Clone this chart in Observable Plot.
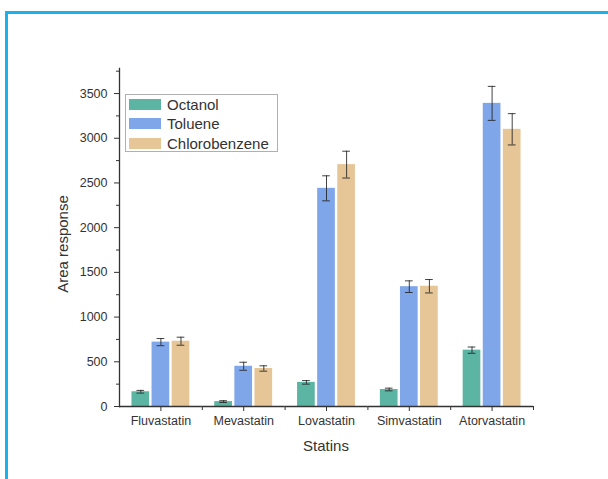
<!DOCTYPE html>
<html><head><meta charset="utf-8">
<script src="https://cdn.jsdelivr.net/npm/d3@7"></script>
<script src="https://cdn.jsdelivr.net/npm/@observablehq/plot@0.6"></script>
<style>
body{margin:0;background:#fff;font-family:"Liberation Sans",Arial,sans-serif;}
#wrap{position:relative;width:608px;height:479px;overflow:hidden;background:#fff;}
#border{position:absolute;left:5px;top:11px;right:-10px;bottom:-10px;border-left:3px solid #1ab1ec;border-top:3px solid #1ab1ec;}
#chart{position:absolute;left:0;top:0;}
#legend{position:absolute;left:125px;top:94px;width:153px;height:58px;border:1px solid #b0b0b0;background:#fff;box-sizing:border-box;}
.item{position:absolute;left:3px;height:19px;display:flex;align-items:center;font-size:15px;color:#333;white-space:nowrap;}
.sw{width:32px;height:11px;margin-right:6px;}
.title{position:absolute;font-size:15px;color:#333;white-space:nowrap;}
</style></head>
<body>
<div id="wrap">
  <div id="chart"></div>
  <div id="border"></div>
  <div id="legend"></div>
  <div class="title" id="xt"></div>
  <div class="title" id="yt"></div>
</div>
<script>
const statins = ["Fluvastatin", "Mevastatin", "Lovastatin", "Simvastatin", "Atorvastatin"];
const solvents = ["Octanol", "Toluene", "Chlorobenzene"];
const octanol = [165, 55, 270, 190, 630];
const octanolErr = [15, 10, 20, 15, 35];
const toluene = [720, 450, 2440, 1340, 3390];
const tolueneErr = [40, 45, 140, 65, 190];
const chlorobenzene = [730, 425, 2705, 1345, 3100];
const chlorobenzeneErr = [45, 30, 150, 75, 175];
const colors = ["#5cb5a2", "#7fa6e8", "#e6c597"];
const yTicks = [0, 500, 1000, 1500, 2000, 2500, 3000, 3500];
const yMinor = [250, 750, 1250, 1750, 2250, 2750, 3250, 3750];
const xTitle = "Statins";
const yTitle = "Area response";

const series = [octanol, toluene, chlorobenzene];
const errs = [octanolErr, tolueneErr, chlorobenzeneErr];
const rows = [];
statins.forEach((s, i) => solvents.forEach((v, j) => rows.push({statin: s, solvent: v, value: series[j][i], err: errs[j][i]})));

const W = 608, H = 479, mL = 119, mR = 75, mT = 68, mB = 73;
const plotH = H - mT - mB;
const ink = "#333";

const chart = Plot.plot({
  width: W, height: H, marginLeft: mL, marginRight: mR, marginTop: mT, marginBottom: mB,
  style: {fontFamily: "'Liberation Sans', Arial, sans-serif", fontSize: "12.5px", color: ink, background: "transparent", overflow: "visible"},
  fx: {domain: statins, paddingInner: 0, paddingOuter: 0, round: false, label: null, axis: null},
  x: {domain: solvents, paddingInner: 0.12, paddingOuter: 0.62, round: false, axis: null},
  y: {domain: [0, 3780], axis: null},
  color: {domain: solvents, range: colors},
  marks: [
    Plot.barY(rows, {fx: "statin", x: "solvent", y: "value", fill: "solvent"}),
    Plot.ruleX(rows, {fx: "statin", x: "solvent", y1: d => d.value - d.err, y2: d => d.value + d.err, stroke: "#222", strokeOpacity: 0.85}),
    Plot.tickY(rows, {fx: "statin", x: "solvent", y: d => d.value - d.err, insetLeft: 5, insetRight: 5, stroke: "#222", strokeOpacity: 0.85}),
    Plot.tickY(rows, {fx: "statin", x: "solvent", y: d => d.value + d.err, insetLeft: 5, insetRight: 5, stroke: "#222", strokeOpacity: 0.85}),
    Plot.ruleY([0], {stroke: ink, strokeWidth: 1.3}),
    Plot.frame({anchor: "left", facetAnchor: "left", stroke: ink, strokeWidth: 1.3}),
    Plot.frame({anchor: "right", insetTop: plotH, insetBottom: -3, stroke: ink}),
    Plot.axisY({ticks: yTicks, tickSize: 5, tickPadding: 7, tickFormat: "d", label: null, stroke: ink}),
    Plot.axisY({ticks: yMinor, tickSize: 3, tickFormat: () => "", label: null, stroke: ink}),
    Plot.axisFx({anchor: "bottom", tickSize: 5, tickPadding: 5, label: null, stroke: ink})
  ]
});
document.getElementById("chart").appendChild(chart);

const legend = document.getElementById("legend");
solvents.forEach((s, j) => {
  const it = document.createElement("div");
  it.className = "item";
  it.style.top = (0 + j * 19.3) + "px";
  const sw = document.createElement("div");
  sw.className = "sw";
  sw.style.background = colors[j];
  it.appendChild(sw);
  it.appendChild(document.createTextNode(s));
  legend.appendChild(it);
});

const xt = document.getElementById("xt");
xt.textContent = xTitle;
xt.style.left = (326) + "px";
xt.style.top = "437px";
xt.style.transform = "translateX(-50%)";
const yt = document.getElementById("yt");
yt.textContent = yTitle;
yt.style.left = "62px";
yt.style.top = "244px";
yt.style.transform = "translate(-50%,-50%) rotate(-90deg)";
</script>
</body></html>
